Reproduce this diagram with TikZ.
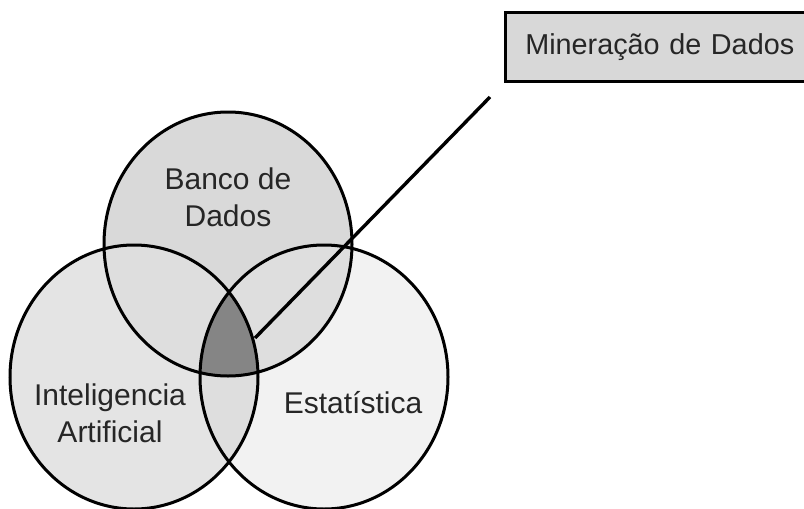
\documentclass[tikz,border=0pt]{standalone}
\usepackage{fontspec}
\setmainfont{Liberation Sans}
\usetikzlibrary{positioning}
\definecolor{bdfill}{HTML}{D9D9D9}
\definecolor{iafill}{HTML}{E4E4E4}
\definecolor{esfill}{HTML}{F2F2F2}
\definecolor{pairfill}{HTML}{DEDEDE}
\definecolor{corefill}{HTML}{858585}
\definecolor{boxfill}{HTML}{D8D8D8}
\tikzset{
x=1pt, y=-1pt,
outline/.style={draw=black, line width=3pt},
setshape/.style={x radius=124pt, y radius=132pt},
lbl/.style={font=\fontsize{30}{37}\selectfont, text=black!85, align=center},
box/.style={%
    rectangle,
    draw=black,
    line width=2.6pt,
    fill=boxfill,
    minimum height=69pt,
    minimum width=320pt,
    inner xsep=20pt,
    text width=280pt,
    font=\fontsize{28.8}{35}\selectfont,
    text=black!85
},
pointer/.style={draw=black, line width=3.4pt},
}

\begin{document}
\begin{tikzpicture}
	\useasboundingbox (0,0) rectangle (804,509);
	\coordinate (bd) at (228,244);
	\coordinate (ia) at (134,377);
	\coordinate (es) at (324,377);

	% fills
	\fill[bdfill] (bd) ellipse [setshape];
	\fill[iafill] (ia) ellipse [setshape];
	\fill[esfill] (es) ellipse [setshape];
	\begin{scope}
		\clip (bd) ellipse [setshape];
		\fill[pairfill] (ia) ellipse [setshape];
		\fill[pairfill] (es) ellipse [setshape];
	\end{scope}
	\begin{scope}
		\clip (ia) ellipse [setshape];
		\fill[pairfill] (es) ellipse [setshape];
		\clip (es) ellipse [setshape];
		\fill[corefill] (bd) ellipse [setshape];
	\end{scope}

	% outlines
	\draw[outline] (bd) ellipse [setshape];
	\draw[outline] (ia) ellipse [setshape];
	\draw[outline] (es) ellipse [setshape];

	\node[lbl] (bdlabel) at (228,197) {Banco de\\Dados};
	\node[lbl] (ialabel) at (110,413) {Inteligencia\\Artificial};
	\node[lbl] (eslabel) at (353,403) {Estatística};

	\node[box, anchor=west] (mining) at (504,47) {Mineração de Dados};
	\coordinate (tip) at (255,338);
	\coordinate (tail) at (490,97);
	\draw[pointer] (tail) -- (tip);
\end{tikzpicture}
\end{document}
